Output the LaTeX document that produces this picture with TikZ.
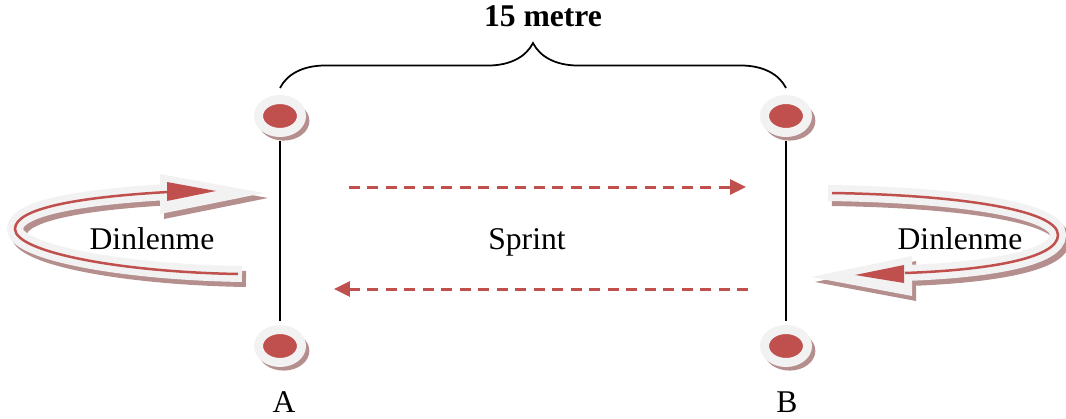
\documentclass[tikz,border=0pt]{standalone}
\usepackage{fontspec}
\setmainfont{Liberation Serif}
\usetikzlibrary{shapes.geometric, arrows.meta, positioning, shadows,
                decorations.pathreplacing}
\definecolor{dotred}{HTML}{C0504D}
\definecolor{bandgray}{HTML}{F2F2F2}
\definecolor{shadowbrown}{HTML}{B58E8E}

\begin{document}
\begin{tikzpicture}[
  x=0.02cm, y=-0.02cm,
  dot/.style={ellipse, minimum width=0.86cm, minimum height=0.66cm,
              inner sep=0pt, fill=dotred, draw=bandgray, line width=0.18cm,
              drop shadow={shadow xshift=0.06cm, shadow yshift=-0.08cm,
                           shadow scale=1.2, fill=shadowbrown, opacity=1}},
  lbl/.style={font=\fontsize{18}{20}\selectfont, anchor=base, inner sep=0pt},
  sprintarr/.style={-{Triangle[length=0.32cm, width=0.3cm]}, dotred,
                    line width=0.06cm, dash pattern=on 0.22cm off 0.15cm},
  bandshadow/.style={draw=shadowbrown, line width=0.32cm},
  band/.style={draw=bandgray, line width=0.32cm},
  bandline/.style={draw=dotred, line width=0.05cm},
]
  \useasboundingbox (0,0) rectangle (1066,419);

  % cones
  \node[dot] (a1) at (280,116) {};
  \node[dot] (a2) at (280,346) {};
  \node[dot] (b1) at (786,116) {};
  \node[dot] (b2) at (786,346) {};
  \draw[line width=0.03cm, shorten <=0.09cm, shorten >=0.09cm] (a1) -- (a2);
  \draw[line width=0.03cm, shorten <=0.09cm, shorten >=0.09cm] (b1) -- (b2);

  \node[lbl] (la) at (284,412) {A};
  \node[lbl] (lb) at (787,412) {B};

  % 15 m brace
  \draw[decorate, decoration={brace, amplitude=0.9cm}, line width=0.035cm]
    ([yshift=0.14cm]a1.north) -- ([yshift=0.14cm]b1.north);
  \node[lbl, font=\fontsize{18}{20}\selectfont\bfseries] (dist) at (543,27) {15 metre};

  % sprint
  \coordinate (s1) at (349,187);
  \coordinate (s2) at (746,187);
  \coordinate (s3) at (748,289);
  \coordinate (s4) at (334,289);
  \draw[sprintarr] (s1) -- (s2);
  \draw[sprintarr] (s3) -- (s4);
  \node[lbl] (sprint) at (527,249) {Sprint};

  % rest loop, left
  \begin{scope}[shift={(4,5)}]
    \draw[bandshadow] (242,274) .. controls (120,272) and (15,252) .. (15,229)
      .. controls (15,208) and (80,197) .. (168,192);
    \fill[shadowbrown] (160,174) -- (264,193) -- (160,214) -- cycle;
  \end{scope}
  \draw[band] (242,274) .. controls (120,272) and (15,252) .. (15,229)
    .. controls (15,208) and (80,197) .. (168,192);
  \fill[bandgray] (160,174) -- (264,193) -- (160,214) -- cycle;
  \draw[bandline] (238,274) .. controls (120,272) and (15,252) .. (15,229)
    .. controls (15,208) and (80,197) .. (168,192);
  \fill[dotred] (167,182) -- (216,191) -- (167,201) -- cycle;
  \node[lbl] (rest1) at (152,249) {Dinlenme};

  % rest loop, right
  \begin{scope}[shift={(4,5)}]
    \draw[bandshadow] (828,193) .. controls (960,195) and (1058,210) .. (1058,235)
      .. controls (1058,258) and (990,270) .. (905,273);
    \fill[shadowbrown] (912,256) -- (811,277) -- (912,296) -- cycle;
  \end{scope}
  \draw[band] (828,193) .. controls (960,195) and (1058,210) .. (1058,235)
    .. controls (1058,258) and (990,270) .. (905,273);
  \fill[bandgray] (912,256) -- (811,277) -- (912,296) -- cycle;
  \draw[bandline] (832,193) .. controls (960,195) and (1058,210) .. (1058,235)
    .. controls (1058,258) and (990,270) .. (905,273);
  \fill[dotred] (904,265) -- (855,275) -- (904,283) -- cycle;
  \node[lbl] (rest2) at (960,249) {Dinlenme};
\end{tikzpicture}
\end{document}
